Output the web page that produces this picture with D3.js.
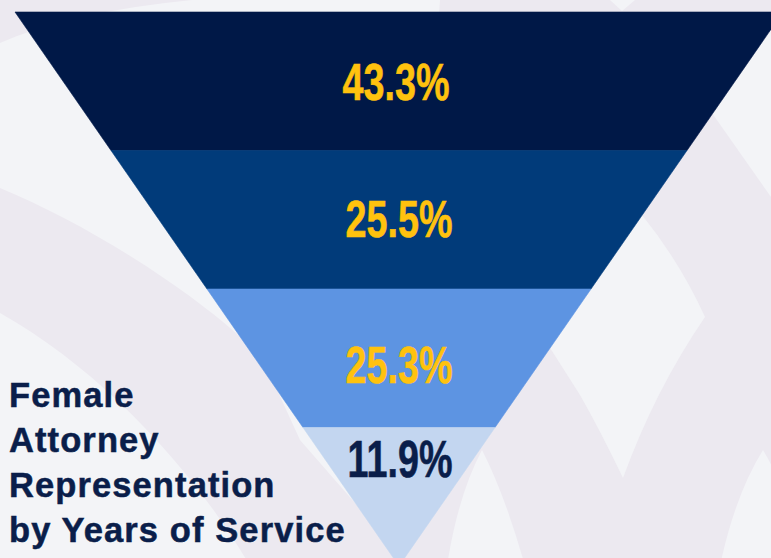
<!DOCTYPE html>
<html>
<head>
<meta charset="utf-8">
<script src="https://cdn.jsdelivr.net/npm/d3@7"></script>
<style>
html, body { margin: 0; padding: 0; background: #f3f4f7; }
svg { display: block; }
</style>
</head>
<body>
<svg id="chart"></svg>
<script>
// funnel tiers, top to bottom
var tiers = ["tier1", "tier2", "tier3", "tier4"];
// share of female attorneys in each tier (%)
var values = [43.3, 25.5, 25.3, 11.9];
var titleLines = ["Female", "Attorney", "Representation", "by Years of Service"];

// size of SVG
var w = 771;
var h = 558;

var fills = ["#001847", "#013b7a", "#5d94e2", "#c3d6f0"];
var labelColors = ["#ffc20e", "#ffc20e", "#ffc20e", "#0a1e4a"];
var navy = "#0a1e4a";
var light = "#f3f4f7";
var lavender = "#ece9f0";

// funnel geometry
var top_y = 12, apex_y = 566, cx = 399, top_half = 384;
// small nudges so labels sit where the original puts them
var labelDx = [-3, 0, 0, 1];
var labelDy = [0, -1.5, 6, -38.5];

var svg = d3.select("#chart")
	.attr("width", w)
	.attr("height", h);

svg.append("rect")
	.attr("width", w)
	.attr("height", h)
	.attr("fill", light);

// faint background arcs
var deco = svg.append("g");
deco.append("path").attr("fill", lavender)
	.attr("d", "M0,0 L192,0 Q70,12 0,43 Z");
deco.append("path").attr("fill", lavender)
	.attr("d", "M0,188 C90,225 200,295 262,357 L300,440 L410,566 L250,566 C200,480 110,375 0,313 Z");
deco.append("path").attr("fill", lavender)
	.attr("d", "M440,0 L771,0 L771,566 L399,566 Z");
// lighter arches on the right
deco.append("path").attr("fill", light)
	.attr("d", "M740,12 L771,12 L771,197 L712,113 L690,80 Z");
deco.append("path").attr("fill", light)
	.attr("d", "M610,0 L635,0 L622,11 Z");
deco.append("path").attr("fill", light)
	.attr("d", "M545,340 L642,215 Q680,262 705,317 Q655,390 623,478 Q600,430 580,395 Z");
deco.append("path").attr("fill", light)
	.attr("d", "M447,566 Q458,495 482,450 Q505,495 525,566 Z");
deco.append("path").attr("fill", light)
	.attr("d", "M720,566 Q735,495 763,450 Q790,495 805,566 Z");

// scales
var y = d3.scaleBand()
	.domain(tiers)
	.range([top_y, apex_y]);
var half = d3.scaleLinear()
	.domain([top_y, apex_y])
	.range([top_half, 0]);

function bandPath(t) {
	var y0 = y(t), y1 = y(t) + y.bandwidth();
	var p = d3.path();
	p.moveTo(cx - half(y0), y0);
	p.lineTo(cx + half(y0), y0);
	p.lineTo(cx + half(y1), y1);
	p.lineTo(cx - half(y1), y1);
	p.closePath();
	return p.toString();
}

svg.selectAll(".band")
	.data(tiers)
	.enter().append("path")
	.attr("class", "band")
	.attr("d", bandPath)
	.attr("fill", function(d, i) { return fills[i]; })
	.attr("stroke", function(d, i) { return fills[i]; })
	.attr("stroke-width", 0.6);

svg.selectAll(".val")
	.data(values)
	.enter().append("text")
	.attr("class", "val")
	.attr("transform", function(d, i) {
		var yc = y(tiers[i]) + y.bandwidth() / 2 + 18.5 + labelDy[i];
		return "translate(" + (cx + labelDx[i]) + "," + yc + ") scale(0.74,1)";
	})
	.attr("text-anchor", "middle")
	.attr("font-family", "'Liberation Sans', Arial, sans-serif")
	.attr("font-weight", "bold")
	.attr("font-size", 51)
	.attr("fill", function(d, i) { return labelColors[i]; })
	.attr("stroke", function(d, i) { return labelColors[i]; })
	.attr("stroke-width", 0.6)
	.text(function(d) { return d3.format(".1f")(d) + "%"; });

// title, bottom left
svg.append("g").selectAll("text")
	.data(titleLines)
	.enter().append("text")
	.attr("x", 9)
	.attr("y", function(d, i) { return 407 + i * 45; })
	.attr("font-family", "'Liberation Sans', Arial, sans-serif")
	.attr("font-weight", "bold")
	.attr("font-size", 34.5)
	.attr("letter-spacing", 1.1)
	.attr("fill", navy)
	.attr("stroke", navy)
	.attr("stroke-width", 0.5)
	.text(function(d) { return d; });
</script>
</body>
</html>
